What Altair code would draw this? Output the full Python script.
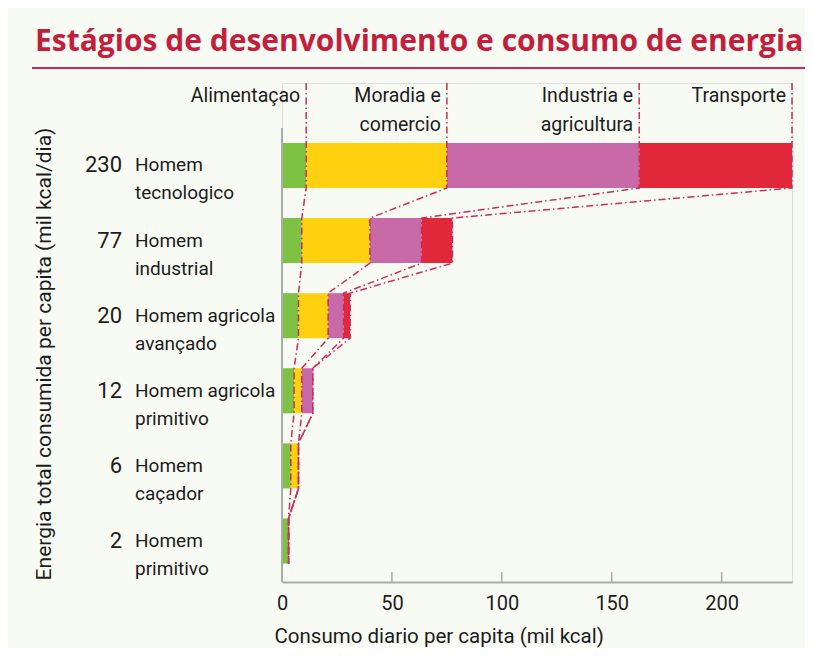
import altair as alt
import pandas as pd

# ---- data ----
row_names = ["Homem\ntecnologico", "Homem\nindustrial", "Homem agricola\navançado",
             "Homem agricola\nprimitivo", "Homem\ncaçador", "Homem\nprimitivo"]
row_totals = ["230", "77", "20", "12", "6", "2"]
categories = ["Alimentaçao", "Moradia e\ncomercio", "Industria e\nagricultura", "Transporte"]
food = [11, 9, 7.5, 5.5, 4, 3]
home = [64, 31, 13.5, 3.5, 3.5, 0]
industry = [87.5, 23.5, 7, 5, 0, 0]
transport = [69.5, 14, 3, 0, 0, 0]
tick_values = [0, 50, 100, 150, 200]
colors = ["#7dc243", "#fdd10f", "#c96aa8", "#e1283b"]

title = "Estágios de desenvolvimento e consumo de energia"
x_title = "Consumo diario per capita (mil kcal)"
y_title = "Energia total consumida per capita (mil kcal/dia)"

COND = "Roboto, Liberation Sans"
TXT = "#1c1c1c"
LINE = "#cc2a5c"
HALF = 0.3  # half bar thickness in row units

series = [food, home, industry, transport]

# bars
bar_rows = []
cum = []  # cumulative boundaries per row
for i in range(len(row_names)):
    s = 0.0
    bounds = []
    for k, cat in enumerate(categories):
        v = series[k][i]
        if v > 0:
            bar_rows.append({"cat": cat, "start": s, "end": s + v,
                             "y0": i - HALF, "y1": i + HALF})
        s += v
        bounds.append(s)
    cum.append(bounds)
bars_df = pd.DataFrame(bar_rows)

ydom = [-1.098, 5.546]
xs = alt.Scale(domain=[0, 232], nice=False, zero=False)
ys = alt.Scale(domain=ydom, reverse=True, nice=False, zero=False)

# connector lines
line_rows = []
for k in range(len(categories)):
    o = 0
    line_rows.append({"b": k, "o": o, "x": cum[0][k], "y": ydom[0]})
    for i in range(len(row_names)):
        o += 1
        line_rows.append({"b": k, "o": o, "x": cum[i][k], "y": i - HALF})
        o += 1
        line_rows.append({"b": k, "o": o, "x": cum[i][k], "y": i + HALF})
lines_df = pd.DataFrame(line_rows)

header_df = pd.DataFrame({"x": cum[0], "t": categories})
rows_df = pd.DataFrame({"row": list(range(len(row_names))), "name": row_names, "tot": row_totals})
ticks_df = pd.DataFrame({"t": tick_values[1:]})

bars = alt.Chart(bars_df).mark_rect().encode(
    x=alt.X("start:Q", scale=xs, axis=alt.Axis(
        values=tick_values, ticks=False, grid=False, labelFlush=False,
        domainColor="#a9ada9", domainWidth=2,
        labelFont=COND, labelFontSize=20, labelColor=TXT, labelPadding=11,
        title=x_title, titleFont=COND, titleFontSize=20.5, titleFontWeight="normal",
        titleColor=TXT, titleAnchor="start", titleAlign="left", titleBaseline="middle",
        titleX=-8, titleY=54)),
    x2="end:Q",
    y=alt.Y("y0:Q", scale=ys, axis=None),
    y2="y1:Q",
    color=alt.Color("cat:N", scale=alt.Scale(domain=categories, range=colors), legend=None),
)

left_axis = alt.Chart(pd.DataFrame({"a": [0]})).mark_rule(color="#a9ada9", strokeWidth=2).encode(
    x=alt.value(0), y=alt.value(45), y2=alt.value(499))

ticks = alt.Chart(ticks_df).mark_rule(color="#a9ada9", strokeWidth=1.5).encode(
    x=alt.X("t:Q", scale=xs), y=alt.value(489), y2=alt.value(499))

lines = alt.Chart(lines_df).mark_line(color=LINE, strokeWidth=1.5,
                                      strokeDash=[7, 3, 1.5, 3]).encode(
    x=alt.X("x:Q", scale=xs), y=alt.Y("y:Q", scale=ys), detail="b:N", order="o:Q")

headers = alt.Chart(header_df).mark_text(
    align="right", baseline="top", dx=-6, lineBreak="\n", lineHeight=29,
    font=COND, fontSize=19.5, color=TXT).encode(
    x=alt.X("x:Q", scale=xs), y=alt.value(4), text="t:N")

totals = alt.Chart(rows_df).mark_text(
    align="right", baseline="middle", font=COND, fontSize=22, color=TXT).encode(
    x=alt.value(-160), y=alt.Y("row:Q", scale=ys), text="tot:N")

names = alt.Chart(rows_df).mark_text(
    align="left", baseline="middle", lineBreak="\n", lineHeight=28,
    font=COND, fontSize=19, color=TXT).encode(
    x=alt.value(-147), y=alt.Y("row:Q", scale=ys), text="name:N")

ytitle = alt.Chart(pd.DataFrame({"t": [y_title]})).mark_text(
    angle=270, align="center", baseline="middle", font=COND, fontSize=21, color=TXT).encode(
    x=alt.value(-237), y=alt.value(271), text="t:N")

ttl = alt.Chart(pd.DataFrame({"t": [title]})).mark_text(
    align="left", baseline="middle", font="Open Sans", fontSize=30, fontWeight="bold",
    color="#c31f3c").encode(x=alt.value(-247), y=alt.value(-41), text="t:N")

underline = alt.Chart(pd.DataFrame({"a": [0]})).mark_rule(color="#c8285a", strokeWidth=2).encode(
    x=alt.value(-250), x2=alt.value(523), y=alt.value(-15))

chart = alt.layer(bars, left_axis, ticks, lines, headers, totals, names, ytitle, ttl, underline).properties(
    width=510, height=499,
    autosize=alt.AutoSizeParams(type="none"),
    padding={"left": 274, "top": 75, "right": 13, "bottom": 66},
).configure_view(stroke=None).configure(background="#f8faf4")

chart.save("out.html", embed_options={"renderer": "svg", "actions": False})
